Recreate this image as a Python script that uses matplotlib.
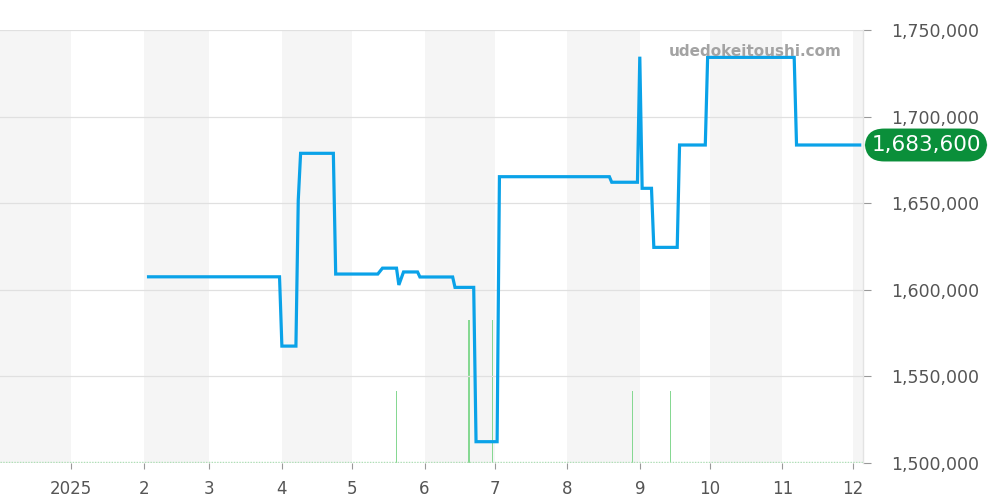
import matplotlib
matplotlib.use("Agg")
import matplotlib.pyplot as plt
import matplotlib.dates as mdates
import matplotlib.transforms as mtransforms
import pandas as pd
from matplotlib.ticker import FuncFormatter, FixedLocator

# ---- data ----
price_dates = ["2025-02-03", "2025-03-31", "2025-04-01", "2025-04-07", "2025-04-08",
               "2025-04-09", "2025-04-23", "2025-04-24", "2025-05-12", "2025-05-14",
               "2025-05-20", "2025-05-21", "2025-05-23", "2025-05-29", "2025-05-30",
               "2025-06-13", "2025-06-14", "2025-06-22", "2025-06-23", "2025-07-02",
               "2025-07-03", "2025-08-19", "2025-08-20", "2025-08-31", "2025-09-01",
               "2025-09-02", "2025-09-06", "2025-09-07", "2025-09-17", "2025-09-18",
               "2025-09-29", "2025-09-30", "2025-11-06", "2025-11-07", "2025-12-04"]
price_values = [1607500, 1607500, 1567500, 1567500, 1651800,
                1678800, 1678800, 1609100, 1609100, 1612500,
                1612500, 1602800, 1610300, 1610300, 1607400,
                1607400, 1601400, 1601400, 1512300, 1512300,
                1665300, 1665300, 1662100, 1662100, 1734600,
                1658600, 1658600, 1624500, 1624500, 1683600,
                1683600, 1734200, 1734200, 1683600, 1683600]

volume_dates = ["2025-05-20", "2025-06-20", "2025-06-30", "2025-08-29", "2025-09-14"]
volume_values = [1, 2, 2, 1, 1]

month_ticks = ["2025-01-01", "2025-02-01", "2025-03-01", "2025-04-01", "2025-05-01",
               "2025-06-01", "2025-07-01", "2025-08-01", "2025-09-01", "2025-10-01",
               "2025-11-01", "2025-12-01"]
month_labels = ["2025", "2", "3", "4", "5", "6", "7", "8", "9", "10", "11", "12"]

band_starts = ["2024-12-01", "2025-02-01", "2025-04-01", "2025-06-01",
               "2025-08-01", "2025-10-01", "2025-12-01"]
band_ends = ["2025-01-01", "2025-03-01", "2025-05-01", "2025-07-01",
             "2025-09-01", "2025-11-01", "2026-01-01"]

watermark = "udedokeitoushi.com"

# ---- figure ----
fig = plt.figure(figsize=(10, 5), dpi=100)
ax = fig.add_axes([0.0, 0.074, 0.863, 0.866])   # volume + bands
ax2 = ax.twinx()                                 # price

pd_price = pd.to_datetime(price_dates)
pd_vol = pd.to_datetime(volume_dates)
xmin = pd.Timestamp("2024-12-01 12:00")
xmax = pd.Timestamp("2025-12-05 10:00")

for s, e in zip(band_starts, band_ends):
    ax.axvspan(pd.Timestamp(s), pd.Timestamp(e), color="#f5f5f5", lw=0, zorder=0)

ax.bar(pd_vol, volume_values, width=0.5, color="#86d892", zorder=2)
ax.axhline(0.02, color="#a8dfb0", lw=1.0, ls=(0, (1, 1)), zorder=2)
ax.set_ylim(0, 6.05)
ax.set_yticks([])

ax2.plot(pd_price, price_values, color="#0aa2e8", lw=2.3, solid_joinstyle="miter", zorder=3)
ax2.set_ylim(1500000, 1750000)
ax2.set_yticks([1500000, 1550000, 1600000, 1650000, 1700000, 1750000])
ax2.yaxis.set_major_formatter(FuncFormatter(lambda v, p: f"{int(v):,}"))
ax2.grid(axis="y", color="#e0e0e0", lw=0.9)
ax2.set_axisbelow(True)
ax2.tick_params(axis="y", length=6, width=0.8, color="#999999", pad=14,
                labelsize=12.5, labelcolor="#555555")

ax.set_xlim(xmin, xmax)
ax.xaxis.set_major_locator(FixedLocator(mdates.date2num(pd.to_datetime(month_ticks))))
ax.set_xticklabels(month_labels)
ax.tick_params(axis="x", length=4, width=0.8, color="#999999", pad=8,
               labelsize=12, labelcolor="#555555")

for a in (ax, ax2):
    for side in ("top", "left", "bottom", "right"):
        a.spines[side].set_visible(False)
ax2.spines["right"].set_visible(True)
ax2.spines["right"].set_color("#e3e3e3")
ax2.spines["right"].set_linewidth(1.0)

# watermark
fig.text(0.842, 0.896, watermark, ha="right", va="center", fontsize=11,
         fontweight="bold", color="#a3a3a3")

# last price badge
trans = mtransforms.blended_transform_factory(ax2.transAxes, ax2.transData)
ax2.text(1.073, price_values[-1], f"{price_values[-1]:,}", transform=trans,
         ha="center", va="center", fontsize=15.5, color="white", clip_on=False,
         bbox=dict(boxstyle="round,pad=0.3,rounding_size=0.9", fc="#0a8f3a", ec="none"))

fig.savefig("out.png", dpi=100)
